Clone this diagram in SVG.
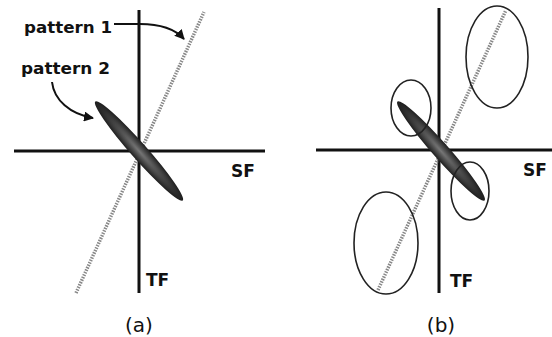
<svg xmlns="http://www.w3.org/2000/svg" width="552" height="337" viewBox="0 0 552 337">
<style>
.ax{stroke:#111;stroke-width:3;fill:none}
.dot{stroke:#888;stroke-width:3.5;stroke-dasharray:1.5 1.2;fill:none}
.ring{stroke:#222;stroke-width:1.6;fill:none}
.lab{font-family:"DejaVu Sans","Liberation Sans",sans-serif;font-weight:bold;font-size:16px;fill:#111}
.ax-lab{font-family:"DejaVu Sans","Liberation Sans",sans-serif;font-weight:bold;font-size:17px;fill:#111}
.cap{font-family:"DejaVu Sans","Liberation Sans",sans-serif;font-size:20px;fill:#111}
.lead{stroke:#111;stroke-width:2;fill:none}
</style>
<defs>
<radialGradient id="blob" cx="0.5" cy="0.5" r="0.5">
<stop offset="0" stop-color="#777"/>
<stop offset="0.35" stop-color="#555"/>
<stop offset="1" stop-color="#1e1e1e"/>
</radialGradient>
<marker id="ah" viewBox="0 0 10 10" refX="9" refY="5" markerWidth="5" markerHeight="5" orient="auto">
<path d="M0,0 L10,5 L0,10 z" fill="#111"/>
</marker>
</defs>
<g id="panel-a">
<g id="axes-a">
<line class="ax" x1="139" y1="10" x2="139" y2="293"/>
<line class="ax" x1="14" y1="151" x2="265" y2="151"/>
</g>
<g id="pattern1-a"><line class="dot" x1="76" y1="293" x2="204" y2="12"/></g>
<g id="pattern2-a"><ellipse cx="139" cy="151" rx="66" ry="8" fill="url(#blob)" transform="rotate(48.5 139 151)"/></g>
<g id="labels-a">
<text class="lab" x="24" y="33" textLength="88" lengthAdjust="spacingAndGlyphs">pattern 1</text>
<text class="lab" x="21" y="74" textLength="89" lengthAdjust="spacingAndGlyphs">pattern 2</text>
<text class="ax-lab" x="231" y="177">SF</text>
<text class="ax-lab" x="146" y="286">TF</text>
<text class="cap" x="139" y="332" text-anchor="middle">(a)</text>
</g>
<g id="connectors">
<path class="lead" d="M114,24 L140,24 C160,24 175,29 184,39" marker-end="url(#ah)"/>
<path class="lead" d="M52,82 C54,100 70,114 93,118" marker-end="url(#ah)"/>
</g>
</g>
<g id="panel-b">
<g id="axes-b">
<line class="ax" x1="439" y1="8" x2="439" y2="293"/>
<line class="ax" x1="316" y1="150" x2="552" y2="150"/>
</g>
<g id="pattern1-b"><line class="dot" x1="378" y1="290" x2="506" y2="10"/></g>
<g id="pattern2-b"><ellipse cx="441" cy="151" rx="66" ry="8" fill="url(#blob)" transform="rotate(48.7 441 151)"/></g>
<g id="rings-b">
<ellipse class="ring" cx="497" cy="57" rx="31" ry="51"/>
<ellipse class="ring" cx="411" cy="108" rx="20" ry="28"/>
<ellipse class="ring" cx="470" cy="191" rx="19" ry="29"/>
<ellipse class="ring" cx="386" cy="243" rx="32" ry="51"/>
</g>
<g id="labels-b">
<text class="ax-lab" x="523" y="176">SF</text>
<text class="ax-lab" x="450" y="287">TF</text>
<text class="cap" x="441" y="332" text-anchor="middle">(b)</text>
</g>
</g>
</svg>
